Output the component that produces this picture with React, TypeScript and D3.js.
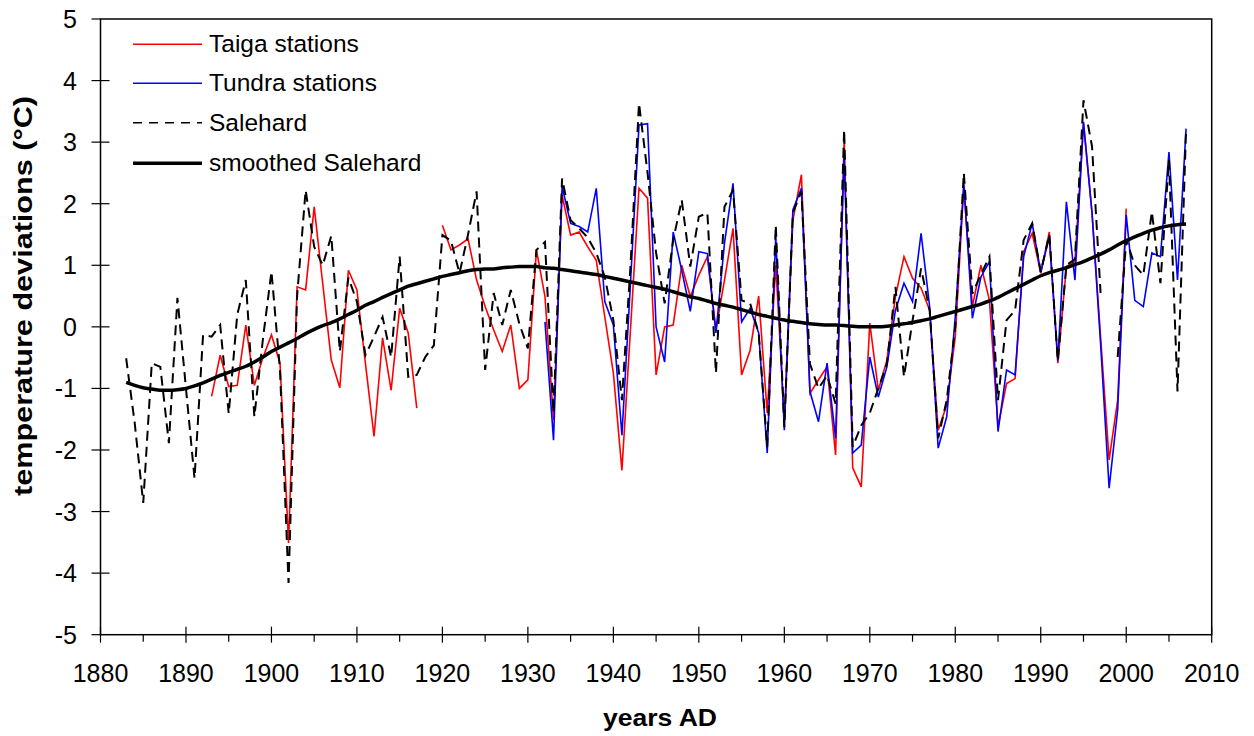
import React from 'react';
import * as d3 from 'd3';

const salehardStart = 1883;
const salehard: (number | null)[] = [
  -0.51, -1.56, -2.86, -0.59, -0.65, -1.89, 0.47, -1.0, -2.46, -0.13,
  -0.16, 0.03, -1.41, 0.2, 0.76, -1.46, -0.2, 0.9, -0.7, -4.16,
  0.5, 2.22, 1.3, 1.0, 1.48, -0.4, 0.8, 0.41, -0.46, -0.16,
  0.16, -0.49, 1.14, -0.81, -0.78, -0.49, -0.3, 1.49, 1.4, 0.87,
  1.5, 2.2, -0.7, 0.55, 0.03, 0.6, 0.05, -0.35, 1.25, 1.38,
  -1.4, 2.41, 1.73, 1.6, 1.45, 1.2, 0.81, 0.11, -1.19, 0.98,
  3.63, 2.5, 1.2, 0.38, 1.41, 2.06, 0.98, 1.79, 1.85, -0.75,
  1.95, 2.22, 0.43, 0.38, -0.1, -1.95, 1.65, -1.63, 1.85, 2.2,
  -0.6, -1.0, -0.79, -1.25, 3.2, -1.95, -1.6, -1.4, -1.0, -0.6,
  0.65, -0.81, 0.1, 0.95, 0.27, -1.81, -1.19, 0.0, 2.5, 0.54,
  0.85, 1.14, -1.19, 0.11, 0.27, 1.41, 1.68, 0.89, 1.5, -0.55,
  1.0, 1.1, 3.68, 2.93, 0.55, null, -0.49, 1.41, 1.0, 0.84,
  1.87, 0.71, 2.71, -1.05, 3.2,
];

const taigaStart = 1893;
const taiga: (number | null)[] = [
  -1.13, -0.46, -0.97, -0.95, 0.03, -0.95, -0.5, -0.13, -0.59, -3.51,
  0.65, 0.6, 1.95, 0.7, -0.54, -0.99, 0.92, 0.6, -0.6, -1.78,
  -0.18, -1.03, 0.3, -0.1, -1.32, null, null, 1.65, 1.25, 1.33,
  1.43, 0.76, 0.33, -0.05, -0.4, 0.03, -1.0, -0.86, 1.25, 0.49,
  -1.51, 2.14, 1.49, 1.54, 1.3, 1.08, 0.16, -0.75, -2.33, -0.05,
  2.25, 2.09, -0.78, 0.0, 0.03, 1.0, 0.49, 0.84, 1.14, -0.05,
  0.76, 1.6, -0.78, -0.38, 0.5, -1.4, 1.0, -1.51, 1.73, 2.47,
  -1.08, -0.86, -0.65, -2.08, 3.03, -2.29, -2.6, 0.06, -1.03, -0.54,
  0.49, 1.14, 0.79, 0.63, 0.27, -1.68, -1.27, -0.16, 2.28, 0.33,
  1.0, 0.43, -1.62, -0.92, -0.84, 1.22, 1.52, 0.87, 1.54, -0.59,
  0.98, 1.06, 3.3, 1.85, -0.16, -2.16, -1.19, 1.92,
];

const tundraStart = 1932;
const tundra: (number | null)[] = [
  0.08, -1.84, 2.28, 1.68, 1.63, 1.54, 2.25, 0.41, 0.03, -1.76,
  0.7, 3.28, 3.3, 0.0, -0.57, 1.54, 0.92, 0.25, 1.22, 1.19,
  -0.1, 1.36, 2.33, 0.08, 0.3, -0.1, -2.05, 1.46, -1.68, 1.9,
  2.25, -1.05, -1.54, -0.59, -1.81, 2.82, -2.05, -1.92, -0.49, -1.14,
  -0.65, 0.27, 0.71, 0.41, 1.52, 0.33, -1.97, -1.46, 0.16, 2.33,
  0.14, 0.81, 1.06, -1.7, -0.7, -0.78, 1.14, 1.68, 0.89, 1.46,
  -0.55, 2.03, 0.76, 3.33, 1.85, -0.27, -2.62, -1.35, 1.82, 0.43,
  0.33, 1.2, 1.14, 2.84, 0.76, 3.22,
];

const smoothedStart = 1883;
const smoothed: (number | null)[] = [
  -0.90, -0.95, -0.99, -1.01, -1.03, -1.03, -1.02, -1.00, -0.96, -0.91,
  -0.85, -0.79, -0.74, -0.69, -0.64, -0.57, -0.49, -0.40, -0.33, -0.26,
  -0.19, -0.11, -0.04, 0.02, 0.07, 0.13, 0.20, 0.27, 0.35, 0.41,
  0.48, 0.54, 0.60, 0.66, 0.70, 0.74, 0.78, 0.82, 0.85, 0.88,
  0.91, 0.93, 0.94, 0.94, 0.96, 0.97, 0.98, 0.98, 0.98, 0.96,
  0.95, 0.93, 0.91, 0.89, 0.87, 0.85, 0.82, 0.79, 0.76, 0.73,
  0.70, 0.67, 0.64, 0.61, 0.57, 0.53, 0.49, 0.46, 0.42, 0.38,
  0.35, 0.32, 0.28, 0.24, 0.20, 0.17, 0.14, 0.11, 0.09, 0.07,
  0.05, 0.04, 0.03, 0.03, 0.02, 0.01, 0.00, 0.00, 0.00, 0.01,
  0.03, 0.05, 0.07, 0.10, 0.13, 0.17, 0.21, 0.25, 0.29, 0.33,
  0.37, 0.42, 0.48, 0.55, 0.62, 0.69, 0.76, 0.83, 0.88, 0.92,
  0.96, 1.01, 1.06, 1.12, 1.18, 1.25, 1.33, 1.40, 1.46, 1.52,
  1.57, 1.61, 1.64, 1.66, 1.67,
];

const xMajorTicks = [1880, 1890, 1900, 1910, 1920, 1930, 1940, 1950, 1960, 1970, 1980, 1990, 2000, 2010];
const xMinorTicks = [1885, 1895, 1905, 1915, 1925, 1935, 1945, 1955, 1965, 1975, 1985, 1995, 2005];
const yTicks = [-5, -4, -3, -2, -1, 0, 1, 2, 3, 4, 5];

const legendLabels = ['Taiga stations', 'Tundra stations', 'Salehard', 'smoothed Salehard'];

const FONT = '"Liberation Sans", Arial, sans-serif';

type Pt = { year: number; v: number | null };
const toPts = (start: number, vals: (number | null)[]): Pt[] =>
  vals.map((v, i) => ({ year: start + i, v }));

export default function App() {
  const W = 1254;
  const H = 736;
  const left = 100.5, right = 1211.7, top = 19, bottom = 634.7;
  const x = d3.scaleLinear().domain([1880, 2010]).range([left, right]);
  const y = d3.scaleLinear().domain([-5, 5]).range([bottom, top]);

  const line = d3
    .line<Pt>()
    .defined((d) => d.v !== null)
    .x((d) => x(d.year))
    .y((d) => y(d.v as number));

  const smoothLine = d3
    .line<Pt>()
    .defined((d) => d.v !== null)
    .x((d) => x(d.year))
    .y((d) => y(d.v as number))
    .curve(d3.curveMonotoneX);

  const series = [
    { pts: toPts(taigaStart, taiga), stroke: '#ff0000', width: 1.6, dash: undefined as string | undefined, gen: line },
    { pts: toPts(tundraStart, tundra), stroke: '#0000ff', width: 1.6, dash: undefined, gen: line },
    { pts: toPts(salehardStart, salehard), stroke: '#000000', width: 2, dash: '10,6', gen: line },
    { pts: toPts(smoothedStart, smoothed), stroke: '#000000', width: 3.5, dash: undefined, gen: smoothLine },
  ];

  const legendRows = [
    { label: legendLabels[0], stroke: '#ff0000', width: 1.6, dash: undefined as string | undefined, ly: 44.3, ty: 52.3 },
    { label: legendLabels[1], stroke: '#0000ff', width: 1.6, dash: undefined, ly: 83.3, ty: 91.3 },
    { label: legendLabels[2], stroke: '#000000', width: 1.6, dash: '9,7', ly: 122.7, ty: 131 },
    { label: legendLabels[3], stroke: '#000000', width: 3.5, dash: undefined, ly: 163.3, ty: 170.7 },
  ];

  return (
    <svg
      width={W}
      height={H}
      style={{ position: 'absolute', left: 0, top: 0, background: '#fff' }}
      fontFamily={FONT}
    >
      <rect x={0} y={0} width={W} height={H} fill="#fff" />
      {series.map((s, i) => (
        <path
          key={i}
          d={s.gen(s.pts) || ''}
          fill="none"
          stroke={s.stroke}
          strokeWidth={s.width}
          strokeDasharray={s.dash}
          strokeLinejoin="miter"
        />
      ))}
      {/* frame */}
      <rect x={left} y={top} width={right - left} height={bottom - top} fill="none" stroke="#000" strokeWidth={1.5} />
      {/* y ticks */}
      {yTicks.map((t) => (
        <g key={'y' + t}>
          <line x1={left - 9} x2={t === 5 || t === -5 ? left : left + 9} y1={y(t)} y2={y(t)} stroke="#000" strokeWidth={1.2} />
          <text x={77} y={y(t)} dy="0.36em" textAnchor="end" fontSize={25} fill="#000">
            {t}
          </text>
        </g>
      ))}
      {/* x ticks */}
      {xMajorTicks.map((t) => (
        <g key={'x' + t}>
          <line x1={x(t)} x2={x(t)} y1={bottom - 8} y2={bottom + 8} stroke="#000" strokeWidth={1.2} />
          <text x={x(t)} y={682} textAnchor="middle" fontSize={25} fill="#000">
            {t}
          </text>
        </g>
      ))}
      {xMinorTicks.map((t) => (
        <line key={'m' + t} x1={x(t)} x2={x(t)} y1={bottom} y2={bottom + 7} stroke="#000" strokeWidth={1.2} />
      ))}
      {/* axis titles */}
      <text x={660} y={726} textAnchor="middle" fontSize={24} fontWeight="bold" fill="#000" textLength={114} lengthAdjust="spacingAndGlyphs">
        years AD
      </text>
      <text
        transform={`translate(32, 296) rotate(-90)`}
        textAnchor="middle"
        fontSize={25}
        fontWeight="bold"
        fill="#000"
        textLength={400}
        lengthAdjust="spacingAndGlyphs"
      >
        temperature deviations (°C)
      </text>
      {/* legend */}
      {legendRows.map((r, i) => (
        <g key={'l' + i}>
          <line x1={133} x2={202} y1={r.ly} y2={r.ly} stroke={r.stroke} strokeWidth={r.width} strokeDasharray={r.dash} />
          <text x={209} y={r.ty} fontSize={24.5} fill="#000">
            {r.label}
          </text>
        </g>
      ))}
    </svg>
  );
}
